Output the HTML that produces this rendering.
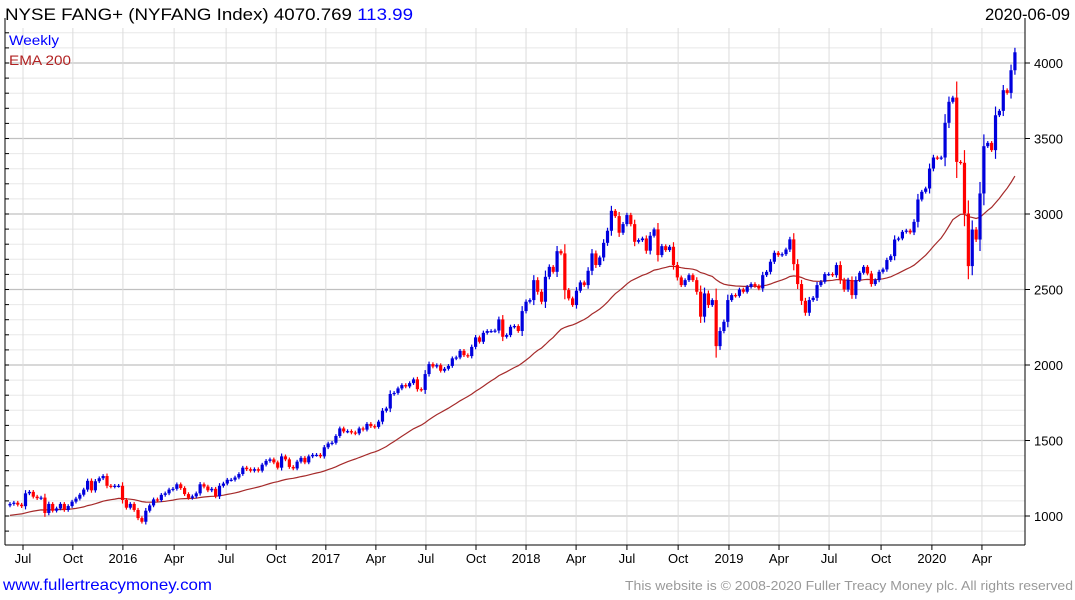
<!DOCTYPE html>
<html><head><meta charset="utf-8"><style>
html,body{margin:0;padding:0;background:#fff;width:1075px;height:600px;overflow:hidden;font-family:"Liberation Sans",sans-serif}
svg{display:block}
</style></head><body>
<svg id="chart" width="1075" height="600" viewBox="0 0 1075 600">
<rect x="0" y="0" width="1075" height="600" fill="#fff"/>
<g id="grid"></g>
<g id="ema"></g>
<g id="candles"></g>
<g id="axes"></g>
<text x="5" y="20" font-size="17" fill="#000" textLength="408" lengthAdjust="spacingAndGlyphs">NYSE FANG+ (NYFANG Index) 4070.769 <tspan fill="#0000ff">113.99</tspan></text>
<text x="985" y="20" font-size="17" fill="#000" textLength="85" lengthAdjust="spacingAndGlyphs">2020-06-09</text>
<text x="9" y="45" font-size="14" fill="#0000ff" textLength="50" lengthAdjust="spacingAndGlyphs">Weekly</text>
<text x="9" y="65" font-size="14" fill="#b22222" textLength="62" lengthAdjust="spacingAndGlyphs">EMA 200</text>
<text x="3" y="590" font-size="16" fill="#0000ff" textLength="209" lengthAdjust="spacingAndGlyphs">www.fullertreacymoney.com</text>
<text x="625" y="590" font-size="13" fill="#999" textLength="448" lengthAdjust="spacingAndGlyphs">This website is © 2008-2020 Fuller Treacy Money plc. All rights reserved</text>
</svg>
<script>
const closes = [1080,1088,1075,1065,1150,1160,1128,1118,1122,1020,
1080,1035,1050,1080,1040,1066,1095,1115,1141,1175,
1233,1170,1230,1250,1265,1200,1195,1200,1200,1106,
1055,1080,1040,986,962,1035,1070,1110,1105,1140,
1150,1175,1180,1210,1185,1145,1120,1130,1150,1210,
1195,1170,1180,1130,1200,1215,1240,1240,1255,1278,
1320,1310,1300,1310,1300,1340,1365,1375,1355,1320,
1395,1375,1325,1315,1360,1385,1355,1395,1405,1405,
1395,1455,1480,1485,1530,
1580,1560,1562,1553,1547,1580,1572,1610,1595,1590,
1625,1697,1712,1808,1815,1845,1867,1858,1880,1905,
1840,1835,1940,2006,1990,1999,1962,1975,1994,2044,
2050,2094,2065,2059,2120,2183,2154,2213,2225,2225,
2228,2302,2187,2198,2253,2258,2225,2357,2419,2430,
2562,2485,2419,2584,2650,2617,2754,2739,2496,2441,
2397,2492,2547,2529,2624,2739,2662,2712,2809,2889,
3021,2986,2876,2933,2993,2933,2816,2827,2838,2757,
2856,2898,2728,2787,2761,2783,
2662,2580,2529,2562,2595,2562,2485,2320,2474,2397,
2430,2125,2225,2286,2430,2463,2458,2500,2485,2518,
2536,2523,2507,2595,2617,2684,2743,2728,2734,2765,
2832,2668,2536,2425,2346,2430,2445,2529,2551,2602,
2602,2595,2662,2562,2500,2562,2463,2562,2611,2650,
2606,2536,2562,2617,2633,2695,2721,
2831,2838,2882,2890,2878,2948,3096,3147,3169,3301,
3374,3370,3374,3604,3743,3771,3345,3339,3003,2655,
2897,2831,3136,3449,3471,3423,3654,3683,3820,3802,
3952,4071];
const firstOpen = 1070;
const emaSeed = 1000;
const emaPeriod = 40;
const yTicks = [1000,1500,2000,2500,3000,3500,4000];
const xLabels = ["Jul","Oct","2016","Apr","Jul","Oct","2017","Apr","Jul","Oct","2018","Apr","Jul","Oct","2019","Apr","Jul","Oct","2020","Apr"];
const xLabelWeeks = [3.35,16.2,29.1,42.3,55.7,68.6,81.4,94.3,107.2,120.1,133,145.9,159,172.2,185.3,198.2,211.1,224.5,237.6,250.5];

const NS="http://www.w3.org/2000/svg";
const PL=5, PR=1025, PT=28, PB=545;
function yS(v){return 516-(v-1000)*0.151;}
function xS(i){return 10+i*3.88;}
function mk(tag,attrs,parent){const e=document.createElementNS(NS,tag);for(const k in attrs)e.setAttribute(k,attrs[k]);parent.appendChild(e);return e;}
const grid=document.getElementById('grid'), cg=document.getElementById('candles'), ax=document.getElementById('axes'), eg=document.getElementById('ema');

for(let v=900; v<=4200; v+=100){
  const y=yS(v); if(y<PT||y>PB) continue;
  const major = v%500===0;
  const l=mk('line',{x1:PL,x2:PR,y1:y,y2:y,stroke:major?'#c0c0c0':'#e8e8e8','stroke-width':major?1.2:1},grid);
  
  
  const t=mk('line',{x1:PL,x2:PL+4,y1:y,y2:y,stroke:'#000','stroke-width':1},ax);
  
  
}
xLabelWeeks.forEach((w,i)=>{
  const x=xS(w);
  const l=mk('line',{x1:x,x2:x,y1:PT,y2:PB,stroke:'#dcdcdc','stroke-width':1},grid);
  
  
  const tk=mk('line',{x1:x,x2:x,y1:PB,y2:PB+5,stroke:'#000','stroke-width':1},ax);
  
  
  const t=mk('text',{x:x,y:PB+18,'font-size':13,'text-anchor':'middle',fill:'#000'},ax);
  t.textContent=xLabels[i];
  
  
});
yTicks.forEach(v=>{
  const y=yS(v);
  const tk=mk('line',{x1:PR,x2:PR+5,y1:y,y2:y,stroke:'#000','stroke-width':1},ax);
  
  
  const t=mk('text',{x:PR+9,y:y+5,'font-size':13,fill:'#000'},ax);
  t.textContent=String(v);
  
  
});
const ab=mk('line',{x1:PL,x2:PR,y1:PB,y2:PB,stroke:'#000','stroke-width':1},ax);


const ar=mk('line',{x1:PR,x2:PR,y1:PT-10,y2:PB,stroke:'#000','stroke-width':1},ax);


const al=mk('line',{x1:PL,x2:PL,y1:PT-10,y2:PB,stroke:'#000','stroke-width':1},ax);



let ema=emaSeed; const a=2/(emaPeriod+1); let pts=[];
closes.forEach((c,i)=>{ema=ema+a*(c-ema); pts.push(xS(i).toFixed(1)+','+yS(ema).toFixed(1));});
const ep=mk('polyline',{points:pts.join(' '),fill:'none',stroke:'#a52a2a','stroke-width':1.2},eg);



closes.forEach((c,i)=>{
  const o = i===0?firstOpen:closes[i-1];
  const up = c>=o;
  const col = up?'#0000dd':'#ff0000';
  const hi=Math.max(o,c), lo=Math.min(o,c);
  const wk=Math.max(12,(hi-lo)*0.25);
  const x=xS(i);
  const g=mk('g',{},cg);
  
  
  mk('line',{x1:x,x2:x,y1:yS(hi+wk),y2:yS(lo-wk),stroke:col,'stroke-width':1.2},g);
  const bt=yS(hi), bb=yS(lo);
  mk('rect',{x:x-1.6,y:bt,width:3.2,height:Math.max(1.2,bb-bt),fill:col},g);
});
</script>
</body></html>
